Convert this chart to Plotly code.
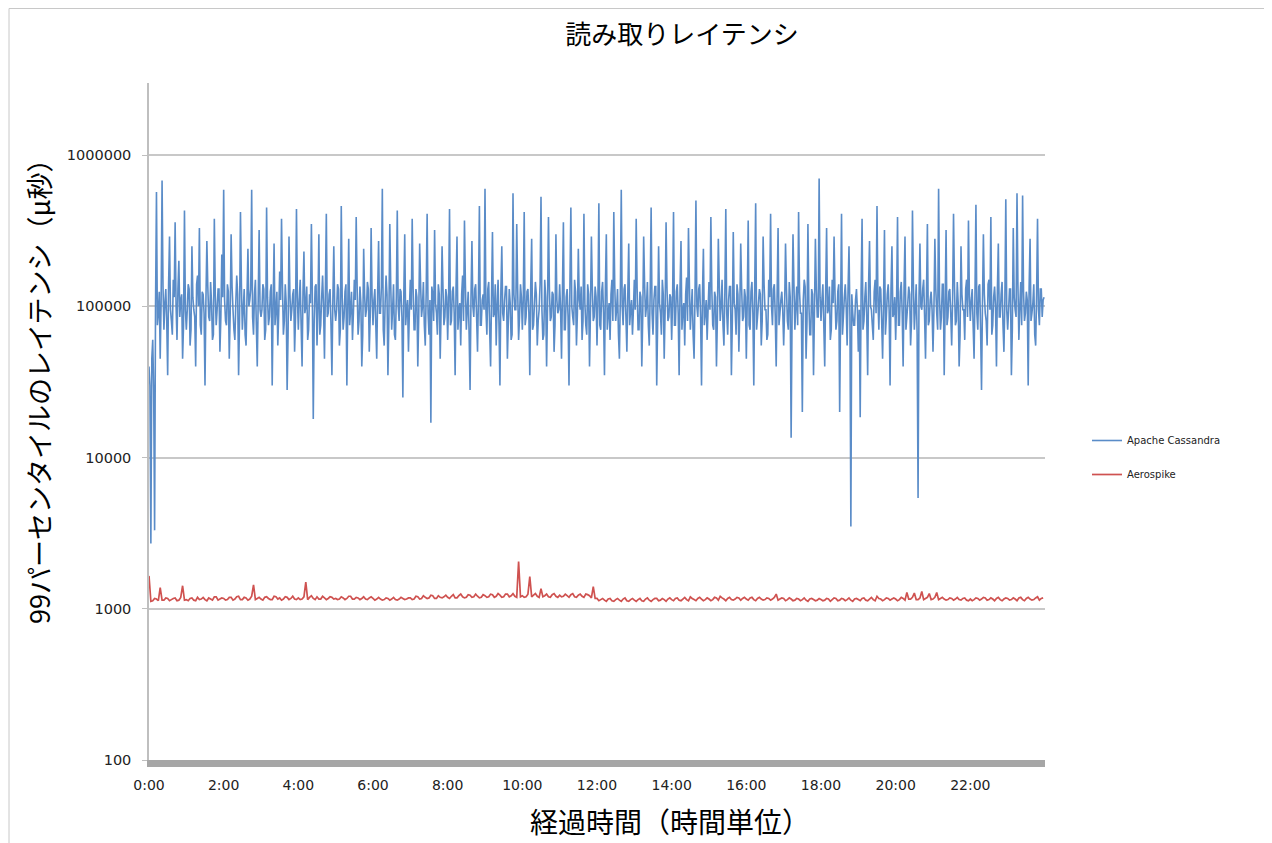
import plotly.graph_objects as go

# ---------------- data ----------------
# Apache Cassandra 99th percentile read latency, one sample every 1.5 minutes, in milliseconds
cassandra_interval_min = 1.5
cassandra_ms = [
    40, 30, 2.7, 45, 60, 28, 3.3, 100, 570, 75, 90, 125, 45, 110, 680, 135, 70, 105, 130, 80,
    35, 140, 290, 95, 80, 65, 150, 115, 360, 100, 60, 130, 200, 85, 110, 120, 45, 75, 430, 95,
    70, 95, 140, 130, 55, 70, 250, 115, 95, 85, 40, 140, 160, 100, 330, 75, 65, 125, 120, 90,
    30, 110, 270, 135, 85, 80, 145, 105, 60, 65, 380, 120, 75, 95, 130, 130, 50, 85, 220, 115,
    590, 110, 80, 75, 140, 125, 45, 90, 300, 135, 95, 70, 60, 105, 160, 120, 35, 80, 420, 140,
    70, 95, 130, 65, 55, 115, 240, 100, 110, 130, 590, 85, 65, 120, 150, 75, 40, 110, 320, 95,
    85, 95, 140, 130, 60, 70, 450, 115, 75, 85, 125, 140, 30, 100, 260, 75, 95, 125, 55, 90,
    170, 110, 380, 135, 65, 80, 140, 105, 28, 65, 290, 120, 80, 95, 120, 130, 50, 85, 440, 115,
    70, 110, 150, 75, 40, 125, 230, 90, 100, 135, 60, 70, 120, 105, 350, 120, 18, 80, 135, 140,
    55, 95, 300, 65, 75, 115, 160, 100, 45, 130, 410, 85, 90, 120, 130, 75, 35, 110, 250, 95,
    80, 95, 140, 130, 55, 70, 460, 115, 70, 85, 125, 140, 30, 100, 280, 75, 95, 125, 60, 90,
    150, 110, 390, 135, 65, 80, 135, 105, 40, 65, 240, 120, 85, 95, 145, 130, 50, 85, 330, 115,
    75, 110, 130, 75, 45, 125, 270, 90, 90, 135, 600, 70, 55, 105, 160, 120, 35, 80, 350, 140,
    70, 95, 140, 65, 60, 115, 430, 100, 80, 130, 125, 85, 25, 120, 300, 75, 95, 110, 50, 95,
    150, 95, 380, 130, 70, 70, 130, 115, 40, 85, 260, 140, 85, 100, 145, 75, 55, 125, 410, 90,
    65, 110, 17, 135, 120, 80, 320, 105, 90, 65, 140, 120, 45, 95, 250, 130, 75, 85, 130, 115,
    60, 110, 440, 75, 80, 125, 135, 90, 35, 135, 290, 70, 95, 105, 55, 120, 160, 80, 370, 140,
    70, 95, 125, 65, 28, 115, 270, 100, 85, 130, 140, 85, 50, 120, 460, 75, 75, 110, 120, 95,
    600, 95, 65, 130, 145, 70, 40, 115, 310, 85, 90, 140, 55, 100, 150, 75, 30, 125, 250, 90,
    80, 110, 135, 135, 45, 80, 130, 105, 60, 65, 560, 120, 95, 95, 350, 130, 60, 85, 140, 115,
    70, 110, 420, 75, 85, 125, 130, 90, 35, 135, 280, 70, 75, 105, 145, 120, 55, 80, 95, 140,
    530, 95, 60, 65, 150, 115, 40, 100, 390, 130, 80, 85, 125, 120, 50, 75, 300, 110, 90, 95,
    140, 95, 45, 130, 360, 70, 70, 115, 130, 85, 30, 140, 450, 100, 85, 75, 150, 125, 55, 90,
    240, 110, 95, 135, 60, 80, 410, 105, 75, 65, 140, 120, 40, 95, 290, 130, 80, 85, 135, 115,
    55, 110, 480, 75, 70, 125, 145, 90, 35, 135, 300, 70, 90, 105, 60, 120, 150, 80, 420, 140,
    80, 95, 130, 65, 45, 115, 590, 100, 75, 130, 140, 85, 50, 120, 260, 75, 95, 110, 65, 95,
    150, 95, 380, 130, 70, 70, 125, 115, 40, 85, 290, 140, 85, 100, 145, 75, 55, 125, 450, 90,
    65, 110, 135, 135, 30, 80, 250, 105, 90, 65, 150, 120, 45, 95, 360, 130, 80, 85, 120, 115,
    60, 110, 420, 75, 75, 125, 140, 90, 35, 135, 270, 70, 95, 105, 55, 120, 155, 80, 330, 140,
    70, 95, 130, 65, 45, 115, 500, 100, 85, 130, 140, 85, 30, 120, 240, 75, 90, 110, 60, 95,
    145, 95, 390, 130, 75, 70, 125, 115, 40, 85, 280, 140, 80, 100, 150, 75, 55, 125, 440, 90,
    65, 110, 135, 135, 35, 80, 310, 105, 95, 65, 140, 120, 50, 95, 260, 130, 80, 85, 130, 115,
    45, 110, 370, 75, 70, 125, 145, 90, 30, 135, 480, 70, 85, 105, 130, 120, 55, 80, 290, 140,
    95, 95, 60, 65, 150, 115, 410, 100, 75, 130, 140, 85, 40, 120, 330, 75, 90, 110, 125, 95,
    55, 95, 260, 130, 80, 70, 145, 115, 13.5, 85, 300, 140, 70, 100, 135, 75, 420, 125, 90, 90,
    20, 110, 150, 135, 45, 80, 350, 105, 65, 65, 130, 120, 35, 95, 280, 130, 85, 85, 700, 115,
    80, 110, 140, 75, 40, 125, 330, 90, 95, 135, 60, 70, 150, 105, 290, 120, 70, 80, 125, 140,
    20, 95, 410, 65, 85, 115, 140, 100, 55, 130, 250, 85, 3.5, 120, 90, 75, 75, 110, 130, 95,
    50, 95, 18.5, 130, 380, 70, 80, 115, 145, 85, 35, 140, 270, 100, 95, 75, 60, 125, 150, 90,
    460, 110, 70, 135, 130, 80, 45, 105, 320, 65, 85, 120, 140, 95, 30, 130, 250, 85, 90, 115,
    60, 110, 390, 75, 75, 125, 145, 90, 40, 135, 290, 70, 85, 105, 135, 120, 55, 80, 430, 140,
    70, 95, 140, 65, 5.4, 115, 260, 100, 95, 130, 150, 85, 45, 120, 350, 75, 80, 110, 125, 95,
    50, 95, 280, 130, 90, 70, 600, 115, 70, 85, 140, 140, 35, 100, 320, 75, 85, 125, 130, 90,
    55, 110, 410, 135, 75, 80, 145, 105, 40, 65, 250, 120, 95, 95, 60, 130, 150, 85, 370, 115,
    80, 110, 130, 75, 45, 125, 470, 90, 70, 135, 140, 70, 28, 105, 300, 120, 90, 80, 55, 140,
    150, 95, 390, 65, 75, 115, 135, 100, 40, 130, 260, 85, 85, 120, 145, 75, 50, 110, 510, 95,
    70, 95, 130, 130, 35, 70, 330, 115, 95, 85, 560, 140, 60, 100, 145, 75, 540, 125, 80, 90,
    125, 110, 30, 135, 280, 80, 90, 105, 140, 65, 55, 120, 380, 95, 75, 130, 130, 85, 110, 115,
]

# Aerospike 99th percentile read latency, one sample every 3 minutes, in microseconds
aerospike_interval_min = 3
aerospike_us = [
    1650, 1120, 1130, 1170, 1160, 1130, 1380, 1140, 1140, 1180, 1170, 1130, 1150, 1170, 1180, 1130, 1140, 1190, 1420, 1140,
    1150, 1130, 1170, 1180, 1140, 1130, 1190, 1150, 1160, 1190, 1150, 1130, 1180, 1160, 1140, 1200, 1200, 1140, 1160, 1180,
    1170, 1140, 1150, 1190, 1190, 1140, 1160, 1200, 1210, 1150, 1150, 1190, 1180, 1140, 1160, 1210, 1440, 1150, 1170, 1190,
    1160, 1140, 1190, 1200, 1170, 1150, 1150, 1210, 1200, 1160, 1180, 1140, 1160, 1200, 1190, 1150, 1170, 1210, 1160, 1150,
    1180, 1150, 1160, 1200, 1500, 1150, 1190, 1220, 1170, 1150, 1200, 1160, 1160, 1210, 1180, 1150, 1170, 1200, 1190, 1160,
    1170, 1150, 1160, 1200, 1180, 1150, 1170, 1210, 1210, 1160, 1160, 1190, 1180, 1150, 1170, 1200, 1160, 1150, 1180, 1200,
    1170, 1140, 1160, 1190, 1160, 1140, 1150, 1180, 1170, 1140, 1160, 1190, 1150, 1140, 1160, 1190, 1170, 1150, 1160, 1180,
    1180, 1150, 1160, 1210, 1200, 1160, 1170, 1220, 1190, 1170, 1180, 1230, 1220, 1170, 1170, 1220, 1190, 1180, 1200, 1230,
    1190, 1170, 1210, 1240, 1180, 1180, 1220, 1250, 1200, 1180, 1190, 1240, 1230, 1190, 1200, 1250, 1210, 1180, 1190, 1240,
    1220, 1190, 1200, 1250, 1240, 1190, 1210, 1260, 1230, 1190, 1200, 1250, 1250, 1200, 1220, 1260, 1210, 1190, 2050, 1200,
    1220, 1190, 1200, 1250, 1630, 1200, 1230, 1260, 1210, 1190, 1360, 1200, 1220, 1250, 1200, 1190, 1240, 1260, 1210, 1190,
    1230, 1200, 1210, 1250, 1220, 1190, 1240, 1260, 1200, 1190, 1230, 1250, 1210, 1190, 1250, 1240, 1220, 1180, 1400, 1170,
    1170, 1130, 1150, 1170, 1140, 1120, 1160, 1170, 1130, 1120, 1150, 1170, 1140, 1120, 1160, 1180, 1130, 1120, 1150, 1170,
    1140, 1120, 1150, 1170, 1130, 1120, 1160, 1180, 1140, 1120, 1150, 1170, 1170, 1130, 1140, 1170, 1150, 1120, 1160, 1180,
    1150, 1130, 1170, 1180, 1140, 1130, 1160, 1190, 1150, 1130, 1200, 1170, 1150, 1130, 1170, 1190, 1160, 1130, 1150, 1180,
    1160, 1130, 1150, 1190, 1180, 1140, 1210, 1180, 1160, 1130, 1170, 1190, 1150, 1140, 1160, 1190, 1180, 1140, 1170, 1190,
    1160, 1140, 1180, 1190, 1150, 1130, 1170, 1190, 1160, 1140, 1150, 1180, 1170, 1140, 1160, 1190, 1250, 1140, 1160, 1180,
    1170, 1130, 1150, 1180, 1160, 1130, 1140, 1170, 1160, 1130, 1150, 1180, 1140, 1120, 1160, 1170, 1150, 1130, 1140, 1170,
    1150, 1130, 1140, 1170, 1160, 1120, 1150, 1180, 1170, 1130, 1140, 1170, 1160, 1130, 1150, 1180, 1140, 1120, 1160, 1170,
    1150, 1130, 1170, 1180, 1140, 1130, 1160, 1190, 1150, 1130, 1210, 1170, 1160, 1130, 1150, 1180, 1170, 1140, 1160, 1180,
    1160, 1130, 1150, 1190, 1170, 1140, 1280, 1160, 1160, 1190, 1270, 1150, 1150, 1180, 1300, 1150, 1170, 1190, 1260, 1150,
    1160, 1190, 1280, 1150, 1170, 1190, 1160, 1140, 1150, 1180, 1170, 1140, 1160, 1190, 1150, 1140, 1170, 1180, 1140, 1130,
    1160, 1130, 1150, 1180, 1170, 1140, 1160, 1190, 1180, 1140, 1150, 1180, 1160, 1130, 1170, 1190, 1150, 1130, 1160, 1180,
    1170, 1140, 1150, 1180, 1160, 1130, 1180, 1190, 1150, 1130, 1170, 1190, 1160, 1140, 1150, 1180, 1200, 1140, 1170, 1180,
]

series_names = ["Apache Cassandra", "Aerospike"]
x_tick_hours = [0, 2, 4, 6, 8, 10, 12, 14, 16, 18, 20, 22]
x_tick_labels = ["0:00", "2:00", "4:00", "6:00", "8:00", "10:00",
                 "12:00", "14:00", "16:00", "18:00", "20:00", "22:00"]
y_tick_values = [100, 1000, 10000, 100000, 1000000]
y_tick_labels = ["100", "1000", "10000", "100000", "1000000"]

title_text = "読み取りレイテンシ"
x_title_text = "経過時間（時間単位）"
y_title_text = "99パーセンタイルのレイテンシ（μ秒）"

# ---------------- derived ----------------
cass_hours = [i * cassandra_interval_min / 60 for i in range(len(cassandra_ms))]
cass_us = [v * 1000 for v in cassandra_ms]
aero_hours = [i * aerospike_interval_min / 60 for i in range(len(aerospike_us))]

# ---------------- layout geometry (page has an 8px body margin) ----------------
PAGE_OFF = 8
FIG_W, FIG_H = 1264, 835
PLOT_L, PLOT_R, PLOT_T, PLOT_B = 149, 1045, 83, 760   # in window pixels
PW, PH = PLOT_R - PLOT_L, PLOT_B - PLOT_T


def px(vx):
    return (vx - PLOT_L) / PW


def py(vy):
    return (PLOT_B - vy) / PH


CJK = "Noto Sans CJK JP"
LAT = "DejaVu Sans, Verdana, sans-serif"

fig = go.Figure()
fig.add_trace(go.Scatter(
    x=cass_hours, y=cass_us, mode="lines", name=series_names[0],
    line=dict(color="#5a8cc8", width=1.6, simplify=False), legendgroup="a",
))
fig.add_trace(go.Scatter(
    x=aero_hours, y=aerospike_us, mode="lines", name=series_names[1],
    line=dict(color="#cf5250", width=1.7, simplify=False), legendgroup="b",
))

fig.update_layout(
    width=FIG_W, height=FIG_H,
    margin=dict(l=PLOT_L - PAGE_OFF, r=FIG_W - (PLOT_R - PAGE_OFF),
                t=PLOT_T - PAGE_OFF, b=FIG_H - (PLOT_B - PAGE_OFF)),
    paper_bgcolor="white", plot_bgcolor="white",
    title=dict(text=title_text, x=(682 - PAGE_OFF) / FIG_W, xanchor="center",
               y=1 - (35 - PAGE_OFF) / FIG_H, yanchor="middle", yref="container",
               font=dict(family=CJK, size=26, color="black")),
    showlegend=True,
    legend=dict(x=px(1087), xanchor="left", y=py(426), yanchor="top",
                font=dict(family=LAT, size=10, color="#222"),
                tracegroupgap=15, bgcolor="rgba(0,0,0,0)"),
    font=dict(family=LAT, color="#222"),
)

fig.update_xaxes(
    range=[0, 24], tickmode="array", tickvals=x_tick_hours, ticktext=x_tick_labels,
    showgrid=False, zeroline=False, showline=True, linecolor="#a6a6a6", linewidth=7,
    ticks="", tickfont=dict(family=LAT, size=14, color="#222"),
    ticklabelstandoff=6,
)
fig.update_yaxes(
    type="log", range=[2, 6 + (155 - PLOT_T) / 151], tickmode="array",
    tickvals=y_tick_values, ticktext=y_tick_labels,
    showgrid=True, gridcolor="#c8c8c8", gridwidth=1.5,
    zeroline=False, showline=True, linecolor="#bfbfbf", linewidth=1.5,
    ticks="outside", ticklen=5, tickcolor="#bfbfbf",
    tickfont=dict(family=LAT, size=14.5, color="#222"), ticklabelstandoff=8,
)

fig.add_annotation(
    text=y_title_text, textangle=-90, xref="paper", yref="paper",
    x=px(38), y=py(385), xanchor="center", yanchor="middle",
    showarrow=False, font=dict(family=CJK, size=27, color="black"),
)
fig.add_annotation(
    text=x_title_text, xref="paper", yref="paper",
    x=px(670), y=py(821), xanchor="center", yanchor="middle",
    showarrow=False, font=dict(family=CJK, size=28, color="black"),
)

# thin outer frame of the original chart image
fig.add_shape(type="rect", xref="paper", yref="paper",
              x0=px(9), x1=px(1300), y0=py(900), y1=py(8.5),
              line=dict(color="#c8c8c8", width=1), layer="below")

fig.write_html("out.html")
